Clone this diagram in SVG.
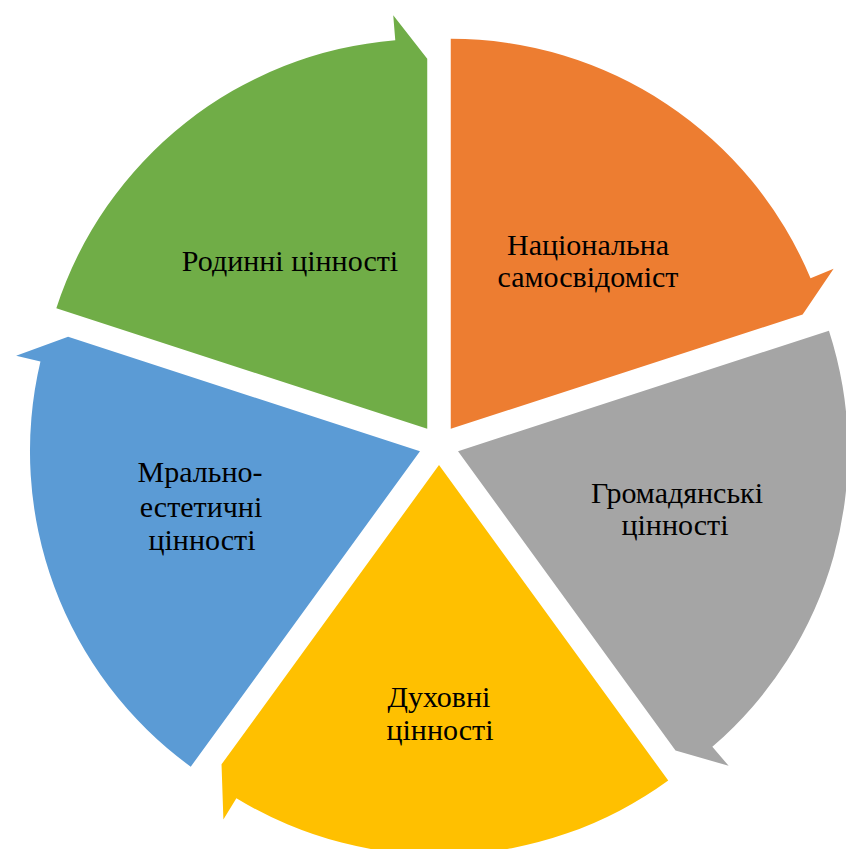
<svg xmlns="http://www.w3.org/2000/svg" width="846" height="849" viewBox="0 0 846 849">
<style>
.t{font-family:'Liberation Serif','Times New Roman',serif;font-size:30px;fill:#000;text-anchor:middle}
</style>
<rect width="846" height="849" fill="#fff"/>
<g id="seg-green">
<path d="M427.24,428.82 L56.33,308.30 A390,390 0 0 1 395.28,40.13 L393.23,15.21 L427.24,58.82 Z" fill="#70AD47"/>
<text class="t" x="290" y="271">Родинні цінності</text>
</g>
<g id="seg-orange">
<path d="M450.76,428.82 L450.76,38.82 A390,390 0 0 1 810.55,278.32 L833.61,268.67 L802.65,314.48 Z" fill="#ED7D31"/>
<text class="t" x="588" y="255">Національна</text>
<text class="t" x="588" y="287">самосвідоміст</text>
</g>
<g id="seg-gray">
<path d="M458.02,451.18 L828.93,330.66 A390,390 0 0 1 712.34,746.85 L728.64,765.80 L675.50,750.52 Z" fill="#A5A5A5"/>
<text class="t" x="677" y="503">Громадянські</text>
<text class="t" x="675" y="535">цінності</text>
</g>
<g id="seg-yellow">
<path d="M439,465 L668.24,780.52 A390,390 0 0 1 236.39,798.24 L223.40,819.60 L221.52,764.34 Z" fill="#FFC000"/>
<text class="t" x="439" y="707">Духовні</text>
<text class="t" x="440" y="740">цінності</text>
</g>
<g id="seg-blue">
<path d="M419.98,451.18 L190.74,766.70 A390,390 0 0 1 40.44,361.46 L16.11,355.71 L68.09,336.84 Z" fill="#5B9BD5"/>
<text class="t" x="200" y="482">Мрально-</text>
<text class="t" x="201" y="517">естетичні</text>
<text class="t" x="202" y="550">цінності</text>
</g>
<g id="connectors"></g>
</svg>
